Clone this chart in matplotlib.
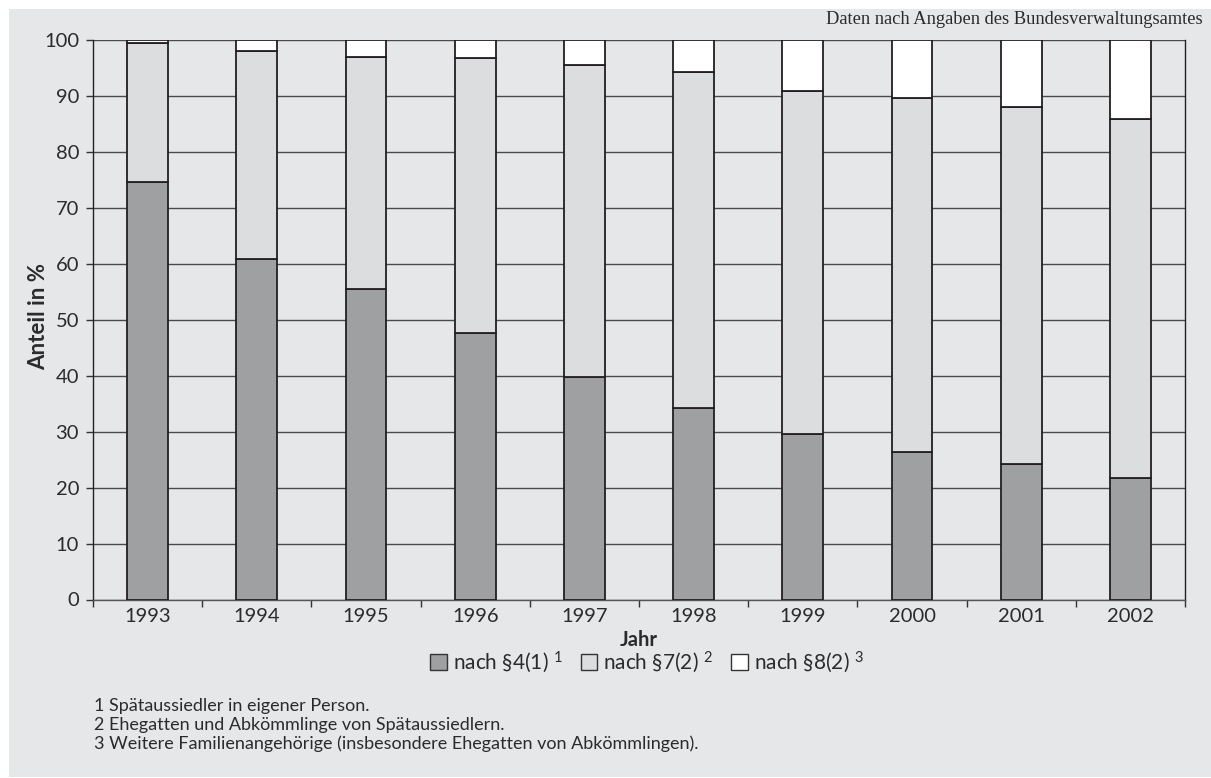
import matplotlib
matplotlib.use("Agg")
import matplotlib.pyplot as plt
import numpy as np
from matplotlib.patches import Rectangle, Patch

# Anteile der Spätaussiedler nach Rechtsstellung (in %)
jahre = ["1993", "1994", "1995", "1996", "1997", "1998", "1999", "2000", "2001", "2002"]
nach_4_1 = [74.6, 60.9, 55.5, 47.7, 39.8, 34.2, 29.5, 26.3, 24.3, 21.7]
nach_7_2 = [24.8, 37.2, 41.5, 49.0, 55.7, 60.1, 61.4, 63.3, 63.7, 64.2]
nach_8_2 = [0.6, 1.9, 3.0, 3.3, 4.5, 5.7, 9.1, 10.4, 12.0, 14.1]

legend_labels = ["nach §4(1) $^{1}$", "nach §7(2) $^{2}$", "nach §8(2) $^{3}$"]
footnotes = [
    "1 Spätaussiedler in eigener Person.",
    "2 Ehegatten und Abkömmlinge von Spätaussiedlern.",
    "3 Weitere Familienangehörige (insbesondere Ehegatten von Abkömmlingen).",
]
source_note = "Daten nach Angaben des Bundesverwaltungsamtes"

plt.rcParams["font.family"] = ["Lato", "DejaVu Sans"]
plt.rcParams["mathtext.fontset"] = "custom"
plt.rcParams["mathtext.rm"] = "Lato"
plt.rcParams["mathtext.it"] = "Lato"

W, H = 1211, 778
fig = plt.figure(figsize=(W / 100, H / 100), dpi=100, facecolor="white")

panel = "#e6e7e9"
edge = "#231f20"
text_col = "#2b2b2b"
colors = ["#9fa0a2", "#dcdddf", "#ffffff"]

# grey background panel behind everything
fig.patches.append(Rectangle((9 / W, 1 / H), 1 - 9 / W, 1 - 10 / H,
                             transform=fig.transFigure, facecolor=panel,
                             edgecolor="none", zorder=-5))

ax = fig.add_axes([93 / W, 1 - 599.5 / H, (1185 - 93) / W, (599.5 - 40) / H])
ax.set_zorder(2)
ax.set_facecolor(panel)

x = np.arange(len(jahre))
width = 0.375
s1 = np.array(nach_4_1)
s2 = np.array(nach_7_2)
s3 = np.array(nach_8_2)
ax.bar(x, s1, width, color=colors[0], edgecolor=edge, linewidth=1.3, zorder=3)
ax.bar(x, s2, width, bottom=s1, color=colors[1], edgecolor=edge, linewidth=1.3, zorder=3)
ax.bar(x, s3, width, bottom=s1 + s2, color=colors[2], edgecolor=edge, linewidth=1.3, zorder=3)

ax.set_xlim(-0.5, len(jahre) - 0.5)
ax.set_ylim(0, 100)
ax.set_yticks(np.arange(0, 101, 10))
ax.yaxis.grid(True, color="#4a4a4a", linewidth=1.0, zorder=1)
ax.set_axisbelow(True)

ax.set_xticks(x)
ax.set_xticklabels(jahre)
ax.set_xticks(np.arange(-0.5, len(jahre), 1.0), minor=True)
ax.tick_params(axis="x", which="major", length=0, pad=6, labelsize=14.5, labelcolor=text_col)
ax.tick_params(axis="x", which="minor", length=5, width=1, color="#333333", direction="out")
ax.tick_params(axis="y", length=5, width=1, color="#333333", pad=5, labelsize=14.5, labelcolor=text_col)

for side in ["left", "right"]:
    ax.spines[side].set_color("#222222")
    ax.spines[side].set_linewidth(1.0)
ax.spines["top"].set_visible(False)
ax.spines["bottom"].set_color("#555555")
ax.spines["bottom"].set_linewidth(1.0)

ax.set_ylabel("Anteil in %", fontsize=16, fontweight="bold", color=text_col)
ax.yaxis.set_label_coords(-0.0405, 0.505)
ax.set_xlabel("Jahr", fontsize=14.5, fontweight="bold", color=text_col, labelpad=4)

handles = [Patch(facecolor=c, edgecolor="#333333", linewidth=1.0) for c in colors]
fig.legend(handles, legend_labels, loc="center", bbox_to_anchor=(647 / W, 1 - 662 / H),
           ncol=3, frameon=False, fontsize=15, handlelength=0.8, handleheight=0.8,
           handletextpad=0.3, columnspacing=0.85, labelcolor=text_col)

for i, line in enumerate(footnotes):
    fig.text(94 / W, 1 - (706 + 19 * i) / H, line, fontsize=13, color=text_col,
             ha="left", va="center")

fig.text(1203 / W, 1 - 19 / H, source_note, fontsize=13.3, color=text_col,
         family=["Liberation Serif", "DejaVu Serif"], ha="right", va="center")

fig.savefig("out.png", dpi=100, facecolor="white")
